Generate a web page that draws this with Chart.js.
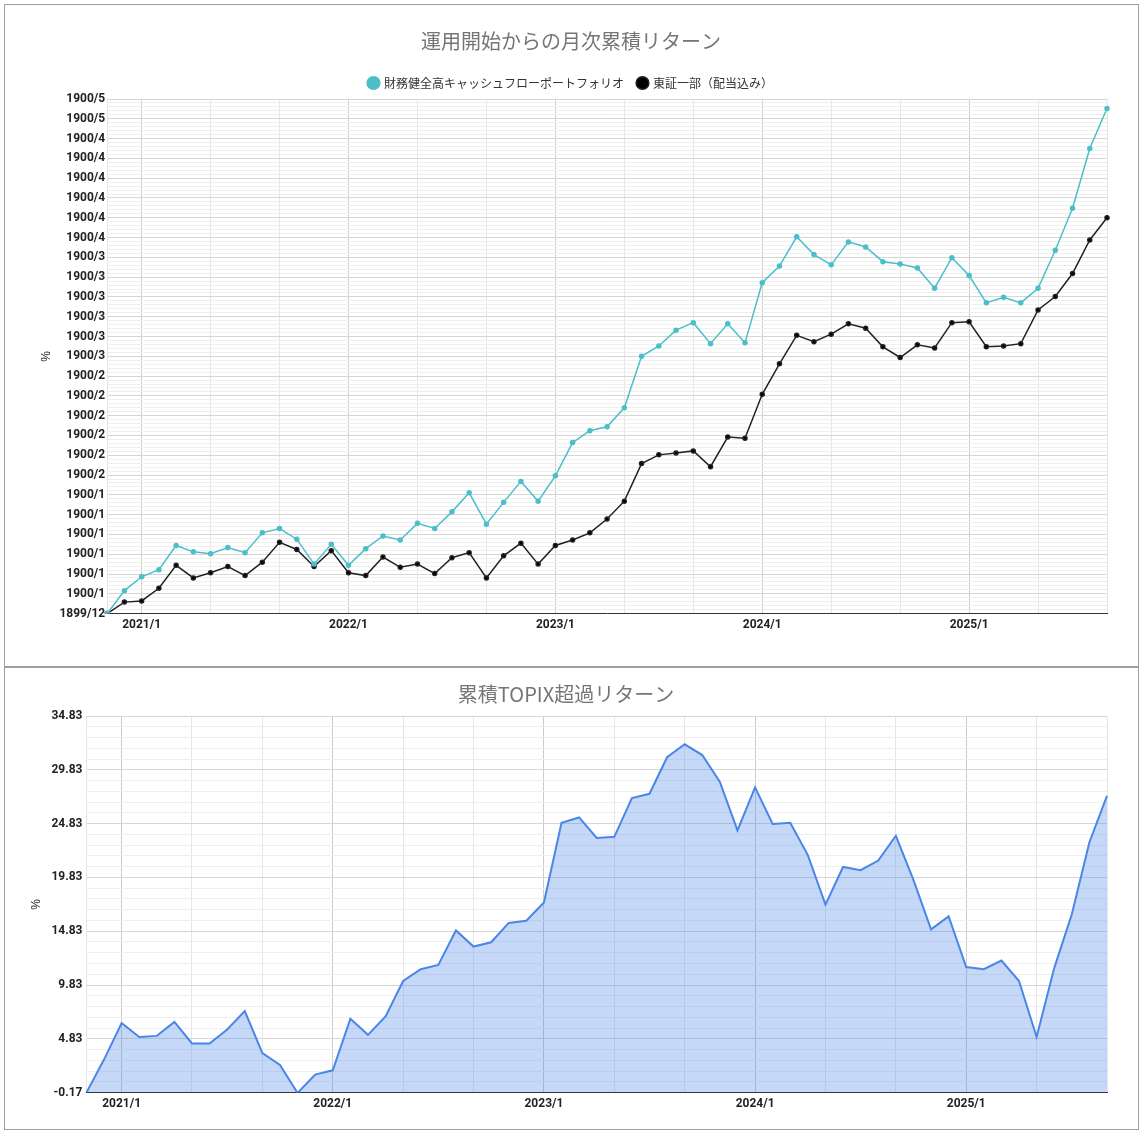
<!DOCTYPE html>
<html><head><meta charset="utf-8">
<script src="https://cdn.jsdelivr.net/npm/chart.js@4/dist/chart.umd.min.js"></script>
<style>
body{margin:0;background:#fff;font-family:Roboto,"Noto Sans CJK JP",sans-serif}
.box{position:absolute;left:4px;width:1133px;border:1px solid #9e9e9e;background:#fff}
canvas{display:block}
</style></head><body>
<div class="box" style="top:4px;height:661px"><canvas id="c1" width="1133" height="661"></canvas></div>
<div class="box" style="top:667px;height:461px"><canvas id="c2" width="1133" height="461"></canvas></div>
<script>
// months 2020/11 .. 2025/9
const months = [];
for (let y = 2020, m = 11; y < 2025 || m <= 9; ) {
  months.push(y + "/" + m);
  m++; if (m > 12) { m = 1; y++; }
}

const portfolio = [0,5.8,9.3,11.1,17.2,15.6,15.1,16.7,15.4,20.4,21.5,18.8,12.5,17.5,
12.2,16.4,19.6,18.6,22.8,21.5,25.7,30.5,22.6,28.1,33.4,28.4,
34.8,43.2,46.2,47.2,52.0,65.0,67.6,71.6,73.5,68.2,73.2,68.4,
83.6,87.8,95.2,90.7,88.1,93.9,92.6,88.9,88.3,87.3,82.2,89.9,
85.4,78.5,79.9,78.5,82.2,91.8,102.4,117.5,127.6];

const topix = [0,2.9,3.2,6.4,12.2,9.0,10.3,11.9,9.6,13.0,18.0,16.2,11.9,15.9,
10.3,9.6,14.3,11.7,12.5,10.1,14.1,15.4,9.0,14.6,17.8,12.5,
17.2,18.6,20.4,23.9,28.4,37.9,40.1,40.6,41.1,37.1,44.6,44.3,
55.4,63.1,70.3,68.7,70.6,73.2,72.1,67.4,64.7,67.9,67.1,73.5,
73.7,67.4,67.6,68.2,76.7,80.1,85.9,94.4,100.0];

const excess = [-0.17,2.9,6.3,5.0,5.1,6.4,4.4,4.4,5.7,7.4,3.5,2.4,-0.2,1.5,
1.9,6.7,5.2,6.9,10.2,11.3,11.7,14.9,13.4,13.8,15.6,15.8,
17.5,24.9,25.4,23.5,23.6,27.2,27.6,31.0,32.2,31.2,28.7,24.2,
28.2,24.8,24.9,21.9,17.3,20.8,20.5,21.4,23.7,19.6,15.0,16.2,
11.5,11.3,12.1,10.2,5.0,11.4,16.4,23.1,27.4];

// broken date-formatted tick labels of the original (every 5%)
const topTickLabels = ["1899/12","1900/1","1900/1","1900/1","1900/1","1900/1","1900/1",
"1900/2","1900/2","1900/2","1900/2","1900/2","1900/2",
"1900/3","1900/3","1900/3","1900/3","1900/3","1900/3",
"1900/4","1900/4","1900/4","1900/4","1900/4","1900/4","1900/5","1900/5"];

const tickFont = {family:"Roboto", size:12, weight:"bold"};
function xAxis(){
  return {
    ticks:{autoSkip:false,maxRotation:0,minRotation:0,color:"#222",font:tickFont,padding:4,
      callback:(v,i)=>months[i].endsWith("/1")?months[i]:""},
    grid:{drawTicks:false,color:c=>{
      const m = months[c.index] || "";
      if (m.endsWith("/1")) return "#cccccc";
      if (m.endsWith("/5")||m.endsWith("/9")) return "#e6e6e6";
      return "rgba(0,0,0,0)";
    }},
    border:{color:"#333"}
  };
}
function titleOpt(t,top){return {display:true,text:t,color:"#757575",font:{family:"Noto Sans CJK JP",size:20,weight:"normal"},padding:{top:top,bottom:10}};}

Chart.defaults.animation = false;

new Chart(document.getElementById("c1"),{
  type:"line",
  data:{labels:months,datasets:[
    {label:"財務健全高キャッシュフローポートフォリオ",data:portfolio,borderColor:"#4bbfc9",backgroundColor:"#4bbfc9",borderWidth:1.5,pointRadius:2,tension:0},
    {label:"東証一部（配当込み）",data:topix,borderColor:"#222",backgroundColor:"#000",borderWidth:1.5,pointRadius:2,tension:0}
  ]},
  options:{responsive:false,maintainAspectRatio:false,
    layout:{padding:{left:30,right:31,bottom:30,top:0}},
    plugins:{title:titleOpt("運用開始からの月次累積リターン",24),
      legend:{labels:{usePointStyle:true,pointStyle:"circle",boxWidth:9,boxHeight:9,color:"#333",font:{family:"Noto Sans CJK JP",size:12},padding:14}}},
    scales:{x:xAxis(),
      y:{min:0,max:130,
        afterBuildTicks:a=>{a.ticks=[];for(let v=0;v<=130;v++)a.ticks.push({value:v});},
        ticks:{autoSkip:false,color:"#222",font:tickFont,padding:2,
          callback:v=>v%5===0?topTickLabels[v/5]:""},
        grid:{drawTicks:false,color:c=>c.tick&&c.tick.value%5===0?"#d6d6d6":"#efefef"},
        title:{display:true,text:"%",color:"#222",font:{size:12}}}}
  }
});

new Chart(document.getElementById("c2"),{
  type:"line",
  data:{labels:months,datasets:[
    {label:"累積TOPIX超過リターン",data:excess,borderColor:"#4a86e8",backgroundColor:"rgba(74,134,232,0.32)",fill:"start",borderWidth:2,pointRadius:0,tension:0}
  ]},
  options:{responsive:false,maintainAspectRatio:false,
    layout:{padding:{left:20,right:31,bottom:14}},
    plugins:{title:titleOpt("累積TOPIX超過リターン",14),legend:{display:false}},
    scales:{x:xAxis(),
      y:{min:-0.17,max:34.83,
        afterBuildTicks:a=>{a.ticks=[];for(let v=0;v<=35;v++)a.ticks.push({value:-0.17+v});},
        ticks:{autoSkip:false,color:"#222",font:tickFont,padding:4,
          callback:(v,i)=>i%5===0?(-0.17+i).toFixed(2):""},
        grid:{drawTicks:false,color:c=>c.index%5===0?"#d6d6d6":"#efefef"},
        title:{display:true,text:"%",color:"#222",font:{size:12}}}}
  }
});
</script>
</body></html>
